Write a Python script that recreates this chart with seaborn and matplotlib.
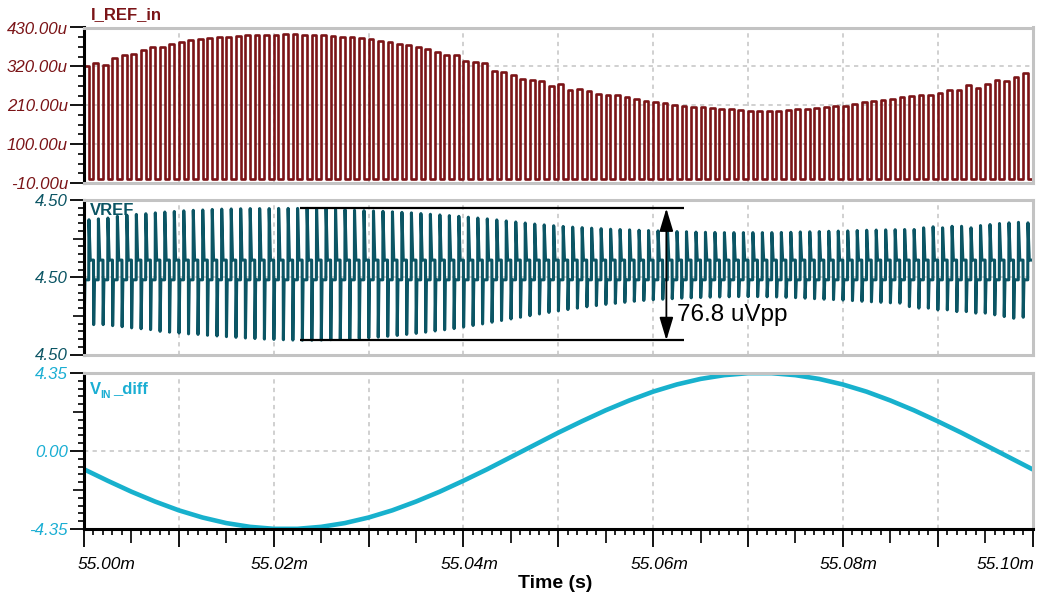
import numpy as np
import pandas as pd
import matplotlib
matplotlib.use("Agg")
import matplotlib.pyplot as plt
import matplotlib.transforms as mtransforms
import seaborn as sns
from matplotlib.ticker import (MultipleLocator, FixedLocator, FuncFormatter,
                               NullLocator, NullFormatter)

sns.set_theme(style="white")
plt.rcParams["font.family"] = ["Liberation Sans", "DejaVu Sans"]
plt.rcParams["font.style"] = "italic"
plt.rcParams["axes.unicode_minus"] = False

# ---------------------------------------------------------------- data
T0_MS = 55.0          # start of the window, ms
N_CYCLES = 100        # 1 us switching cycles in the window

# I_REF_in: current level of each switching pulse (uA); last entry = edge at 55.10m
iref_high_uA = [
    320, 330, 325, 345, 351, 355, 365, 374, 376, 384,
    390, 395, 397, 400, 402, 404, 406, 408, 409, 410,
    410, 411, 411, 410, 409, 408, 406, 404, 402, 400,
    397, 393, 388, 384, 380, 375, 370, 362, 353, 351,
    335, 332, 330, 308, 304, 297, 285, 282, 279, 264,
    269, 252, 255, 250, 241, 239, 238, 232, 227, 223,
    220, 215, 211, 209, 206, 204, 202, 200, 198, 196,
    195, 193, 193, 195, 196, 198, 200, 202, 204, 207,
    209, 213, 218, 222, 225, 227, 232, 236, 238, 239,
    245, 252, 252, 266, 259, 271, 282, 280, 291, 301,
    320,
]
iref_low_uA = 0.0

# VREF: nominal level, per-cycle overshoot / undershoot and settled levels (uV)
vref_nominal_V = 4.5
vref_peak_uV = [
    33.5, 34.0, 34.5, 35.5, 36.2, 36.6, 37.0, 37.5, 38.0, 38.3,
    38.7, 39.0, 39.2, 39.5, 39.7, 39.8, 39.9, 40.0, 40.0, 40.0,
    40.1, 40.1, 40.1, 40.1, 40.0, 39.8, 39.6, 39.4, 39.0, 38.8,
    38.6, 38.4, 38.1, 37.8, 37.5, 37.1, 36.7, 36.3, 35.9, 35.5,
    35.0, 34.5, 34.0, 33.4, 32.8, 32.2, 31.6, 31.0, 30.5, 30.0,
    29.6, 29.2, 28.9, 28.6, 28.3, 28.0, 27.8, 27.6, 27.4, 27.2,
    27.0, 26.8, 26.6, 26.5, 26.3, 26.2, 26.1, 26.0, 26.0, 26.0,
    26.0, 26.0, 26.0, 26.1, 26.2, 26.4, 26.5, 26.6, 26.8, 26.9,
    27.0, 27.2, 27.4, 27.5, 27.6, 27.7, 27.8, 27.8, 28.8, 29.4,
    28.8, 29.7, 29.7, 28.8, 30.1, 30.7, 31.3, 31.7, 32.0, 31.7,
]
vref_dip_uV = [
    -26.0, -27.6, -27.6, -28.2, -28.8, -29.5, -30.0, -30.5, -31.5, -32.0,
    -32.5, -33.0, -33.3, -33.8, -34.2, -34.6, -35.0, -35.4, -35.7, -36.0,
    -36.2, -36.4, -36.6, -36.7, -36.7, -36.6, -36.4, -36.2, -36.0, -35.7,
    -35.3, -34.9, -34.4, -33.9, -33.3, -32.7, -32.0, -31.3, -30.6, -29.9,
    -29.0, -28.1, -27.2, -26.2, -25.2, -24.3, -23.3, -22.4, -21.4, -20.5,
    -19.6, -18.8, -18.0, -17.2, -16.5, -15.8, -15.2, -14.6, -14.0, -13.5,
    -13.1, -12.8, -12.5, -12.2, -12.0, -11.8, -11.6, -11.5, -11.4, -11.3,
    -11.3, -11.3, -11.4, -11.5, -11.7, -11.9, -12.2, -12.5, -12.8, -13.0,
    -13.3, -13.6, -14.0, -14.3, -14.6, -14.9, -15.1, -17.1, -18.0, -18.0,
    -19.0, -19.0, -20.0, -20.0, -20.9, -20.9, -21.9, -22.9, -23.9, -23.3,
]
vref_settle_hi_uV = 10.0
vref_settle_lo_uV = -1.5
ripple_pp_uV = 76.8

# V_IN_diff samples (us from 55.00m, V)
vin_t_us = [0, 2.5, 5, 7.5, 10, 12.5, 15, 17.5, 20, 22.5,
            25, 27.5, 30, 32.5, 35, 37.5, 40, 42.5, 45, 47.5,
            50, 52.5, 55, 57.5, 60, 62.5, 65, 67.5, 70, 72.5,
            75, 77.5, 80, 82.5, 85, 87.5, 90, 92.5, 95, 97.5, 100]
vin_V = [-1.02, -1.66, -2.27, -2.82, -3.31, -3.71, -4.02, -4.23, -4.34, -4.34,
         -4.23, -4.02, -3.71, -3.31, -2.82, -2.27, -1.66, -1.02, -0.34, 0.34,
         1.02, 1.66, 2.27, 2.82, 3.31, 3.71, 4.02, 4.23, 4.34, 4.34,
         4.23, 4.02, 3.71, 3.31, 2.82, 2.27, 1.66, 1.02, 0.34, -0.34, -1.02]

# labelled time ticks (us from 55.00m)
time_label_us = [0, 20, 40, 60, 80, 100]

# ---------------------------------------------------------------- style
C_IREF = "#7b1417"
C_VREF = "#0b5564"
C_VIN = "#18b1cd"
C_VIN_TXT = "#1aaed3"
C_FRAME = "#c3c3c3"
C_GRID = "#d0d0d0"


def to_ms(t_us):
    return T0_MS + np.asarray(t_us, dtype=float) / 1000.0


# I_REF square wave
it, iy = [], []
for i in range(N_CYCLES):
    h = iref_high_uA[i]
    it += [i, i, i + 0.5, i + 0.5]
    iy += [iref_low_uA, h, h, iref_low_uA]
it += [N_CYCLES, N_CYCLES]
iy += [iref_low_uA, iref_high_uA[N_CYCLES]]
df_iref = pd.DataFrame({"t": to_ms(it), "v": iy})

# VREF: undershoot on the rising current edge, overshoot on the falling edge
vt, vy = [0.0], [vref_settle_hi_uV]
for i in range(N_CYCLES):
    vt += [i + 0.02, i + 0.10, i + 0.50, i + 0.52, i + 0.66, i + 1.0]
    vy += [vref_dip_uV[i], vref_settle_lo_uV, vref_settle_lo_uV,
           vref_peak_uV[i], vref_settle_hi_uV, vref_settle_hi_uV]
df_vref = pd.DataFrame({"t": to_ms(vt),
                        "v": vref_nominal_V + np.asarray(vy) * 1e-6})

df_vin = pd.DataFrame({"t": to_ms(vin_t_us), "v": vin_V})

# ---------------------------------------------------------------- figure
W, H = 1038, 599
fig = plt.figure(figsize=(W / 100, H / 100), dpi=100)


def px_axes(top, bottom, left=84, right=1032.5):
    return fig.add_axes([left / W, 1 - bottom / H, (right - left) / W, (bottom - top) / H])


ax1 = px_axes(27.5, 183)
ax2 = px_axes(200, 354.5)
ax3 = px_axes(373, 529)

sns.lineplot(data=df_iref, x="t", y="v", ax=ax1, color=C_IREF, lw=1.9,
             estimator=None, sort=False)
sns.lineplot(data=df_vref, x="t", y="v", ax=ax2, color=C_VREF, lw=2.2,
             estimator=None, sort=False)
sns.lineplot(data=df_vin, x="t", y="v", ax=ax3, color=C_VIN, lw=3.3,
             estimator=None, sort=False)


def frame(ax, bottom_black=False):
    for s in ("top", "right"):
        ax.spines[s].set(color=C_FRAME, lw=2.2, visible=True)
    ax.spines["bottom"].set(color="black" if bottom_black else C_FRAME, lw=2.2, visible=True)
    ax.spines["left"].set(color="black", lw=2.2, visible=True)
    ax.set_xlabel("")
    ax.set_ylabel("")
    ax.set_xlim(to_ms(0), to_ms(N_CYCLES))
    ax.xaxis.set_major_locator(MultipleLocator(0.01))
    ax.grid(True, which="major", color=C_GRID, lw=1.4, ls=(0, (2.2, 2.2)))
    ax.set_axisbelow(True)


def yaxis(ax, lo, hi, n_major, n_sub, fmt, color, medium=True):
    step = (hi - lo) / (n_major - 1)
    majors = [lo + k * step for k in range(n_major)]
    sub = step / n_sub
    minors = [lo + k * sub for k in range(n_sub * (n_major - 1) + 1) if k % n_sub]
    meds = []
    if medium:
        meds = [lo + (k + 0.5) * step for k in range(n_major - 1)]
        minors = [m for m in minors if min(abs(m - d) for d in meds) > sub * 0.1]
    ax.set_ylim(lo, hi)
    ax.yaxis.set_major_locator(FixedLocator(majors))
    ax.yaxis.set_minor_locator(FixedLocator(minors))
    ax.yaxis.set_major_formatter(FuncFormatter(fmt))
    ax.tick_params(axis="y", which="major", direction="out", length=10, width=1.3,
                   color="black", labelsize=12.2, labelcolor=color, pad=1.5, left=True)
    ax.tick_params(axis="y", which="minor", direction="out", length=4.3, width=1.2,
                   color="black", left=True)
    if meds:
        sec = ax.secondary_yaxis("left")
        sec.spines["left"].set_visible(False)
        sec.set_yticks(meds)
        sec.yaxis.set_minor_locator(NullLocator())
        sec.yaxis.set_major_formatter(NullFormatter())
        sec.tick_params(axis="y", which="major", direction="out", length=8,
                        width=1.2, color="black")


for a in (ax1, ax2):
    frame(a)
    a.tick_params(axis="x", which="both", length=0, labelbottom=False)
frame(ax3, bottom_black=True)

yaxis(ax1, -10, 430, 5, 4, lambda v, p: f"{v:.2f}u", C_IREF, medium=False)
yaxis(ax2, vref_nominal_V - 45e-6, vref_nominal_V + 45e-6, 3, 10,
      lambda v, p: f"{v:.2f}", C_VREF)
yaxis(ax3, -4.35, 4.35, 3, 10, lambda v, p: f"{v:.2f}", C_VIN_TXT)

# time axis: ticks from the locator, labels placed so the end ones stay inside
ax3.xaxis.set_major_formatter(NullFormatter())
xmin = [to_ms(k) for k in range(0, N_CYCLES + 1) if k % 5]
ax3.xaxis.set_minor_locator(FixedLocator(xmin))
ax3.tick_params(axis="x", which="major", direction="out", length=13, width=1.3,
                color="black", bottom=True)
ax3.tick_params(axis="x", which="minor", direction="out", length=4.3, width=1.2,
                color="black", bottom=True)
secx = ax3.secondary_xaxis("bottom")
secx.spines["bottom"].set_visible(False)
secx.set_xticks([to_ms(k) for k in range(5, N_CYCLES, 10)])
secx.xaxis.set_minor_locator(NullLocator())
secx.xaxis.set_major_formatter(NullFormatter())
secx.tick_params(axis="x", which="major", direction="out", length=10, width=1.2,
                 color="black")

xlab_tr = mtransforms.blended_transform_factory(ax3.transData, ax3.transAxes)
for n, k in enumerate(time_label_us):
    if n == 0:
        dx, ha = -6, "left"
    elif n == len(time_label_us) - 1:
        dx, ha = 1.5, "right"
    else:
        dx, ha = 6, "center"
    off = mtransforms.ScaledTranslation(dx / 100, -35.5 / 100, fig.dpi_scale_trans)
    ax3.text(to_ms(k), 0, f"{to_ms(k):.2f}m", transform=xlab_tr + off,
             fontsize=12.5, color="black", ha=ha, va="center", clip_on=False)

# ripple annotation on VREF
top_V = vref_nominal_V + max(vref_peak_uV) * 1e-6
bot_V = top_V - ripple_pp_uV * 1e-6
ax2.plot([to_ms(22.8), to_ms(63.3)], [top_V, top_V], color="black", lw=1.6,
         solid_capstyle="butt", zorder=5)
ax2.plot([to_ms(22.8), to_ms(63.3)], [bot_V, bot_V], color="black", lw=1.6,
         solid_capstyle="butt", zorder=5)
ax2.annotate("", xy=(to_ms(61.4), top_V), xytext=(to_ms(61.4), bot_V),
             arrowprops=dict(arrowstyle="<|-|>,head_length=1.0,head_width=0.3",
                             mutation_scale=14, color="black", lw=1.3,
                             shrinkA=0, shrinkB=0), zorder=6)
ax2.text(to_ms(62.5), bot_V + 0.19 * ripple_pp_uV * 1e-6, f"{ripple_pp_uV} uVpp",
         fontsize=17.5, fontstyle="normal", color="black", va="center", ha="left",
         zorder=6)

# trace names
fig.text(91 / W, 1 - 19.5 / H, "I_REF_in", fontsize=12, fontweight="bold",
         fontstyle="normal", color=C_IREF, va="baseline", ha="left")
fig.text(90 / W, 1 - 215 / H, "VREF", fontsize=12, fontweight="bold",
         fontstyle="normal", color=C_VREF, va="baseline", ha="left")
fig.text(90 / W, 1 - 393.5 / H, "V", fontsize=12, fontweight="bold",
         fontstyle="normal", color=C_VIN_TXT, va="baseline", ha="left")
fig.text(100.5 / W, 1 - 398 / H, "IN", fontsize=7.5, fontweight="bold",
         fontstyle="normal", color=C_VIN_TXT, va="baseline", ha="left")
fig.text(113 / W, 1 - 393.5 / H, "_diff", fontsize=12, fontweight="bold",
         fontstyle="normal", color=C_VIN_TXT, va="baseline", ha="left")

fig.text(555.5 / W, 1 - 584 / H, "Time (s)", fontsize=14, fontweight="bold",
         fontstyle="normal", color="black", va="center", ha="center")

fig.savefig("out.png", dpi=100, facecolor="white")
